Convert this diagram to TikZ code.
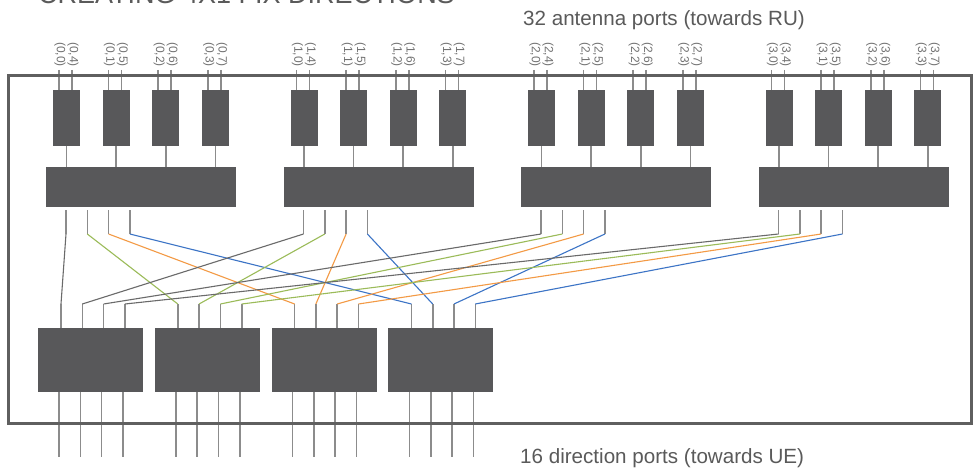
\documentclass[tikz,border=0pt]{standalone}
\usepackage{fontspec}
\setmainfont{Liberation Sans}
\definecolor{boxgray}{HTML}{58585A}
\definecolor{framegray}{HTML}{5F5F5F}
\definecolor{leggray}{HTML}{8C8C8C}
\definecolor{wgray}{HTML}{6A6A6A}
\definecolor{wgreen}{HTML}{9BBB59}
\definecolor{worange}{HTML}{F39A45}
\definecolor{wblue}{HTML}{3C74C6}
\definecolor{txtgray}{HTML}{5A5A5A}
\definecolor{lblgray}{HTML}{727272}
\begin{document}
\begin{tikzpicture}[x=1pt,y=-1pt,
  blk/.style={fill=boxgray, draw=none, inner sep=0pt, outer sep=0pt, anchor=north west},
  leg/.style={draw=leggray, line width=1.6pt},
  wire/.style={line width=1.1pt},
  plbl/.style={rotate=-90, anchor=east, inner sep=0pt, font=\fontsize{12}{12}\selectfont, text=lblgray},
  bigtxt/.style={anchor=base west, inner sep=0pt, font=\fontsize{20.6}{24}\selectfont, text=txtgray}]
\useasboundingbox (0,0) rectangle (976,473);
\clip (0,0) rectangle (976,473);
\fill[white] (0,0) rectangle (976,473);

% title (cut off at top edge, as in the reference)
\node[anchor=base west, inner sep=0pt, font=\fontsize{27}{30}\selectfont, text=txtgray] (title) at (38,4) {CREATING 4X1 FIX DIRECTIONS};

% top groups
\foreach \g in {0,...,3}{
  \pgfmathsetmacro\gx{53+\g*237.5}
  \node[blk, minimum width=190pt, minimum height=40pt] (b-\g) at (\gx-7,167) {};
  \foreach \j in {0,...,3}{
    \pgfmathsetmacro\sx{\gx+\j*49.6}
    \pgfmathtruncatemacro\jj{\j+4}
    \node[blk, minimum width=27pt, minimum height=56pt] (s-\g-\j) at (\sx,90) {};
    \coordinate (pa-\g-\j) at (\sx+6,70);
    \coordinate (pb-\g-\j) at (\sx+19,70);
    \draw[leg] (pa-\g-\j) -- (pa-\g-\j |- s-\g-\j.north);
    \draw[leg] (pb-\g-\j) -- (pb-\g-\j |- s-\g-\j.north);
    \node[plbl] (la-\g-\j) at ([xshift=1pt,yshift=3pt]pa-\g-\j) {(\g,\j)};
    \node[plbl] (lb-\g-\j) at ([xshift=1pt,yshift=3pt]pb-\g-\j) {(\g,\jj)};
    \draw[leg] (s-\g-\j.south) -- (s-\g-\j.south |- b-\g.north);
  }
  \foreach \k in {0,...,3}{
    \coordinate (bt-\g-\k) at (\gx+13+\k*21.3,210);
    \coordinate (bl-\g-\k) at (\gx+13+\k*21.3,234);
    \draw[leg] (bt-\g-\k) -- (bl-\g-\k);
  }
}

% bottom boxes
\foreach \b in {0,...,3}{
  \pgfmathsetmacro\bx{38+\b*116.8}
  \node[blk, minimum width=105pt, minimum height=64pt] (o-\b) at (\bx,328) {};
  \foreach \g in {0,...,3}{
    \coordinate (il-\b-\g) at (\bx+23+\g*21.3,304);
    \draw[leg] (il-\b-\g) -- (il-\b-\g |- o-\b.north);
    \coordinate (ot-\b-\g) at (\bx+21+\g*21.3,392);
    \coordinate (ob-\b-\g) at (\bx+21+\g*21.3,457);
    \draw[leg] (ot-\b-\g) -- (ob-\b-\g);
  }
}

% wiring
\foreach \g in {0,...,3}{
  \foreach \k/\c in {0/wgray,1/wgreen,2/worange,3/wblue}{
    \draw[wire, draw=\c] (bl-\g-\k) -- (il-\k-\g);
  }
}

% frame
\draw[framegray, line width=3pt] (8,76) rectangle (971,423);

% texts
\node[bigtxt] (t1) at (523,26) {32 antenna ports (towards RU)};
\node[bigtxt] (t2) at (520,463) {16 direction ports (towards UE)};
\end{tikzpicture}
\end{document}
